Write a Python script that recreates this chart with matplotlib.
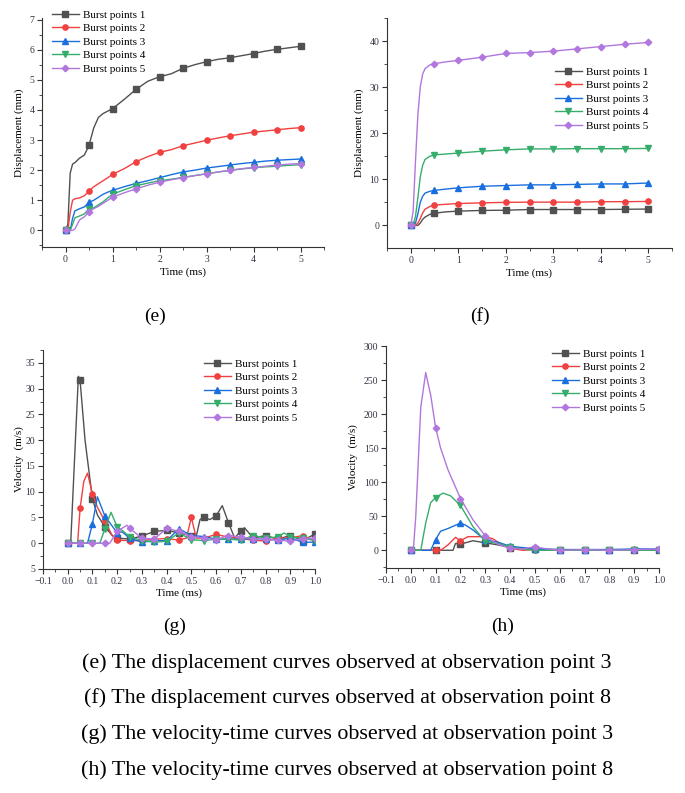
import numpy as np
import matplotlib
matplotlib.use("Agg")
import matplotlib.pyplot as plt
from matplotlib.ticker import MultipleLocator, FixedLocator, FixedFormatter

plt.rcParams['font.family'] = ['Liberation Serif', 'DejaVu Serif']
plt.rcParams['mathtext.fontset'] = 'stix'

labels = ["Burst points 1", "Burst points 2", "Burst points 3", "Burst points 4", "Burst points 5"]
colors = ["#515151", "#F14040", "#1A6FDF", "#37AD6B", "#B177DE"]
markers = ["s", "o", "^", "v", "D"]

# ---------- (e) displacement, observation point 3 ----------
t_e = [0, 0.05, 0.1, 0.15, 0.2, 0.3, 0.4, 0.5, 0.6, 0.7, 0.8, 0.9, 1.0, 1.25, 1.5, 1.75,
       2.0, 2.25, 2.5, 2.75, 3.0, 3.25, 3.5, 3.75, 4.0, 4.25, 4.5, 4.75, 5.0]
e1 = [0, 0.2, 1.9, 2.2, 2.25, 2.4, 2.5, 2.82, 3.4, 3.75, 3.88, 3.96, 4.04, 4.35, 4.68, 4.95,
      5.1, 5.2, 5.38, 5.5, 5.6, 5.68, 5.73, 5.8, 5.87, 5.95, 6.01, 6.06, 6.11]
e2 = [0, 0.0, 0.6, 1.0, 1.05, 1.08, 1.15, 1.30, 1.45, 1.55, 1.65, 1.75, 1.86, 2.05, 2.28, 2.45,
      2.59, 2.68, 2.81, 2.9, 2.99, 3.07, 3.14, 3.2, 3.26, 3.3, 3.34, 3.38, 3.41]
e3 = [0, 0, 0, 0.4, 0.65, 0.72, 0.78, 0.93, 1.0, 1.1, 1.2, 1.27, 1.33, 1.45, 1.56, 1.65,
      1.75, 1.85, 1.94, 2.0, 2.07, 2.12, 2.17, 2.22, 2.26, 2.3, 2.33, 2.35, 2.37]
e4 = [0, 0, 0, 0.2, 0.42, 0.48, 0.55, 0.72, 0.75, 0.85, 0.95, 1.08, 1.2, 1.35, 1.48, 1.57,
      1.65, 1.7, 1.76, 1.82, 1.88, 1.94, 1.99, 2.04, 2.08, 2.11, 2.13, 2.16, 2.18]
e5 = [0, 0, 0, 0, 0.05, 0.35, 0.45, 0.62, 0.72, 0.8, 0.9, 1.0, 1.1, 1.25, 1.38, 1.5,
      1.6, 1.68, 1.75, 1.82, 1.88, 1.94, 2.0, 2.05, 2.09, 2.13, 2.17, 2.2, 2.22]

# ---------- (f) displacement, observation point 8 ----------
t_f = [0, 0.05, 0.1, 0.15, 0.2, 0.25, 0.3, 0.4, 0.5, 0.75, 1.0, 1.5, 2.0, 2.5, 3.0, 3.5, 4.0, 4.5, 5.0]
f1 = [0, 0, 0, 0, 0.5, 1.3, 1.8, 2.4, 2.65, 2.95, 3.1, 3.25, 3.3, 3.45, 3.45, 3.45, 3.45, 3.5, 3.55]
f2 = [0, 0, 0, 0.5, 1.5, 2.7, 3.5, 4.1, 4.4, 4.6, 4.75, 4.9, 5.0, 5.05, 5.05, 5.05, 5.15, 5.15, 5.2]
f3 = [0, 0, 0.5, 2.5, 5, 6.3, 7.0, 7.4, 7.6, 7.9, 8.15, 8.5, 8.65, 8.8, 8.8, 8.9, 9.0, 9.0, 9.2]
f4 = [0, 0, 2, 6, 10.5, 13, 14.3, 15.0, 15.3, 15.5, 15.7, 16.1, 16.4, 16.6, 16.6, 16.65, 16.65, 16.65, 16.7]
f5 = [0, 3, 14, 24, 30, 32.8, 34.0, 34.8, 35.1, 35.5, 35.8, 36.5, 37.3, 37.5, 37.8, 38.3, 38.8, 39.3, 39.7]

# ---------- (g) velocity, observation point 3 ----------
g1_t = [0, 0.012, 0.043, 0.05, 0.07, 0.1, 0.12, 0.15, 0.18, 0.2, 0.25, 0.3, 0.35, 0.4, 0.45, 0.5,
        0.52, 0.535, 0.55, 0.575, 0.6, 0.625, 0.65, 0.675, 0.7, 0.715, 0.75, 0.8, 0.85, 0.9, 0.95, 1.0]
g1_v = [0, 0, 32.4, 31.6, 20, 8.6, 5.5, 3.2, 1.5, 1.0, 0.8, 1.4, 2.3, 2.5, 2.0, 1.5,
        1.4, 4.6, 5.0, 4.6, 5.3, 7.3, 4.0, 1.0, 2.4, 3.0, 1.0, 1.5, 0.8, 1.5, 0.5, 1.8]
g2_t = [0, 0.04, 0.05, 0.065, 0.08, 0.1, 0.12, 0.15, 0.18, 0.2, 0.25, 0.3, 0.35, 0.4, 0.45, 0.48,
        0.5, 0.52, 0.55, 0.6, 0.65, 0.7, 0.75, 0.8, 0.85, 0.9, 0.95, 1.0]
g2_v = [0, 0, 6.8, 12, 13.6, 9.6, 7, 4.3, 1.5, 0.6, 0.5, 0.5, 0.8, 0.9, 0.6, 1.0,
        5.0, 1.0, 1.0, 1.7, 1.2, 0.9, 0.6, 0.4, 1.0, 1.0, 1.5, 0.5]
g3_t = [0, 0.05, 0.08, 0.1, 0.12, 0.15, 0.2, 0.22, 0.25, 0.3, 0.35, 0.4, 0.45, 0.5, 0.55, 0.6,
        0.65, 0.7, 0.75, 0.8, 0.85, 0.9, 0.95, 1.0]
g3_v = [0, 0, 0, 3.8, 9.0, 5.3, 2.0, 2.2, 1.0, 0.2, 0.5, 0.5, 2.8, 1.5, 1.3, 0.8,
        0.8, 0.8, 0.9, 0.8, 0.6, 1.0, 0.2, 0.2]
g4_t = [0, 0.05, 0.1, 0.13, 0.15, 0.175, 0.2, 0.22, 0.25, 0.3, 0.35, 0.4, 0.45, 0.5, 0.55, 0.6,
        0.65, 0.7, 0.75, 0.8, 0.85, 0.875, 0.9, 0.95, 1.0]
g4_v = [0, 0, 0, 0, 2.8, 6.0, 3.2, 2.5, 1.3, 0.5, 0.2, 0.4, 2.0, 0.7, 0.5, 0.8,
        0.8, 0.6, 1.5, 1.0, 1.2, 2.0, 1.2, 1.0, 0.5]
g5_t = [0, 0.05, 0.1, 0.15, 0.17, 0.2, 0.24, 0.25, 0.3, 0.35, 0.4, 0.45, 0.5, 0.55, 0.6,
        0.65, 0.7, 0.75, 0.8, 0.85, 0.9, 0.95, 1.0]
g5_v = [0, 0, 0, 0, 0, 2.3, 3.5, 2.9, 1.0, 0.8, 2.9, 2.3, 1.3, 1.0, 0.7,
        1.5, 1.2, 0.9, 0.9, 0.6, 0.4, 0.9, 1.0]

# ---------- (h) velocity, observation point 8 ----------
h1_t = [0, 0.1, 0.17, 0.18, 0.2, 0.25, 0.3, 0.35, 0.4, 0.5, 0.6, 0.7, 0.8, 0.9, 1.0]
h1_v = [0, 0, 0, 10, 9, 14, 11, 8, 4, 2, 1, 1, 1, 1, 1]
h2_t = [0, 0.1, 0.12, 0.15, 0.18, 0.2, 0.23, 0.3, 0.33, 0.36, 0.4, 0.45, 0.5, 0.6, 0.7, 0.8, 0.9, 1.0]
h2_v = [0, 0, 0, 8, 19, 14, 20, 20, 17, 10, 3, 0, 1, 0, 0, 0, 0, 0]
h3_t = [0, 0.08, 0.1, 0.12, 0.15, 0.2, 0.22, 0.25, 0.3, 0.35, 0.4, 0.5, 0.6, 0.7, 0.8, 0.9, 1.0]
h3_v = [0, 0, 15.7, 28, 32, 40, 37, 30, 15, 12, 6, 2, 1, 1, 1, 2, 2]
h4_t = [0, 0.04, 0.06, 0.08, 0.1, 0.13, 0.16, 0.2, 0.25, 0.3, 0.35, 0.4, 0.45, 0.5, 0.6, 0.7, 0.8, 0.9, 1.0]
h4_v = [0, 0, 40, 70, 77.5, 84, 80, 66, 35, 13, 10, 5, 2, 0, 0, 0, 0, 0, 0]
h5_t = [0, 0.01, 0.02, 0.04, 0.06, 0.08, 0.1, 0.12, 0.15, 0.2, 0.25, 0.3, 0.35, 0.4, 0.45, 0.5,
        0.55, 0.6, 0.7, 0.8, 0.9, 1.0]
h5_v = [0, 0, 50, 210, 261, 228, 180, 150, 118, 76, 45, 21, 9, 3, 2, 5, 2, 0, 1, 0, 1, 2]

panel_labels = ["(e)", "(f)", "(g)", "(h)"]
captions = [
    "(e) The displacement curves observed at observation point 3",
    "(f) The displacement curves observed at observation point 8",
    "(g) The velocity-time curves observed at observation point 3",
    "(h) The velocity-time curves observed at observation point 8",
]

W, H = 685, 793
fig = plt.figure(figsize=(W / 100, H / 100), dpi=100)


def px_axes(l, r, top, bot):
    return fig.add_axes([l / W, 1 - bot / H, (r - l) / W, (bot - top) / H])


def style(ax):
    for s in ("top", "right"):
        ax.spines[s].set_visible(False)
    for s in ("left", "bottom"):
        ax.spines[s].set_linewidth(0.8)
        ax.spines[s].set_color("#333333")
    ax.tick_params(which="major", direction="out", length=3.5, width=0.8, labelsize=7,
                   colors="#333333", labelcolor="#333344", pad=2)
    ax.tick_params(which="minor", direction="out", length=2, width=0.6, colors="#333333")


def draw(ax, ts, vs, step):
    for i, (t, v) in enumerate(zip(ts, vs)):
        t = np.asarray(t, float)
        idx = [k for k, tv in enumerate(t) if abs(tv / step - round(tv / step)) < 1e-6]
        ax.plot(t, v, color=colors[i], lw=1.0, marker=markers[i],
                ms=3.8 if markers[i] != "D" else 3.3, markevery=idx, label=labels[i])


def legend(ax, x, y):
    ax.legend(loc="upper left", bbox_to_anchor=(x / W, 1 - y / H), bbox_transform=fig.transFigure,
              frameon=False, fontsize=8, handlelength=2.4, handletextpad=0.35,
              labelspacing=0.33, borderpad=0, borderaxespad=0)


def vel_xticks(ax):
    xt = np.round(np.arange(-0.1, 1.01, 0.1), 1)
    ax.set_xticks(xt)
    ax.set_xticklabels([f"{v:.1f}".replace("-", "\u2212") for v in xt])
    ax.xaxis.set_minor_locator(MultipleLocator(0.05))


# (e)
ax = px_axes(42, 324, 18, 247)
style(ax)
draw(ax, [t_e] * 5, [e1, e2, e3, e4, e5], 0.5)
ax.set_xlim(-0.5, 5.5)
ax.set_ylim(-0.55, 7.05)
ax.xaxis.set_major_locator(MultipleLocator(1))
ax.xaxis.set_minor_locator(MultipleLocator(0.5))
ax.yaxis.set_major_locator(MultipleLocator(1))
ax.yaxis.set_minor_locator(MultipleLocator(0.5))
ax.set_xlabel("Time (ms)", fontsize=8, labelpad=3)
ax.set_ylabel("Displacement (mm)", fontsize=8, labelpad=4)
legend(ax, 52, 10)

# (f)
ax = px_axes(387, 672, 18, 248)
style(ax)
draw(ax, [t_f] * 5, [f1, f2, f3, f4, f5], 0.5)
ax.set_xlim(-0.5, 5.5)
ax.set_ylim(-4.9, 45)
ax.xaxis.set_major_locator(MultipleLocator(1))
ax.xaxis.set_minor_locator(MultipleLocator(0.5))
ax.yaxis.set_major_locator(MultipleLocator(10))
ax.yaxis.set_minor_locator(MultipleLocator(5))
ax.set_xlabel("Time (ms)", fontsize=8, labelpad=3)
ax.set_ylabel("Displacement (mm)", fontsize=8, labelpad=4)
legend(ax, 555, 67)

# (g)
ax = px_axes(43, 315, 350, 569)
style(ax)
draw(ax, [g1_t, g2_t, g3_t, g4_t, g5_t], [g1_v, g2_v, g3_v, g4_v, g5_v], 0.05)
ax.set_xlim(-0.1, 1.0)
ax.set_ylim(-5, 37.5)
gy = [-5, 0, 5, 10, 15, 20, 25, 30, 35]
ax.yaxis.set_major_locator(FixedLocator(gy))
ax.yaxis.set_major_formatter(FixedFormatter([str(abs(v)) for v in gy]))
ax.yaxis.set_minor_locator(MultipleLocator(2.5))
vel_xticks(ax)
ax.set_xlim(-0.1, 1.0)
ax.set_xlabel("Time (ms)", fontsize=8, labelpad=2)
ax.set_ylabel("Velocity  (m/s)", fontsize=8, labelpad=1)
legend(ax, 204, 359)

# (h)
ax = px_axes(386, 659, 346, 568)
style(ax)
draw(ax, [h1_t, h2_t, h3_t, h4_t, h5_t], [h1_v, h2_v, h3_v, h4_v, h5_v], 0.1)
ax.yaxis.set_major_locator(MultipleLocator(50))
ax.yaxis.set_minor_locator(MultipleLocator(25))
vel_xticks(ax)
ax.set_xlim(-0.1, 1.0)
ax.set_ylim(-26, 300)
ax.set_xlabel("Time (ms)", fontsize=8, labelpad=2)
ax.set_ylabel("Velocity  (m/s)", fontsize=8, labelpad=4)
legend(ax, 552, 349)

# panel labels and captions
for lab, (x, y) in zip(panel_labels, [(155, 316), (480, 316), (175, 626), (503, 626)]):
    fig.text(x / W, 1 - y / H, lab, ha="center", va="center", fontsize=14)
for cap, y in zip(captions, [663, 698, 734, 770]):
    fig.text(347 / W, 1 - y / H, cap, ha="center", va="center", fontsize=15.8)

fig.savefig("out.png", dpi=100)
